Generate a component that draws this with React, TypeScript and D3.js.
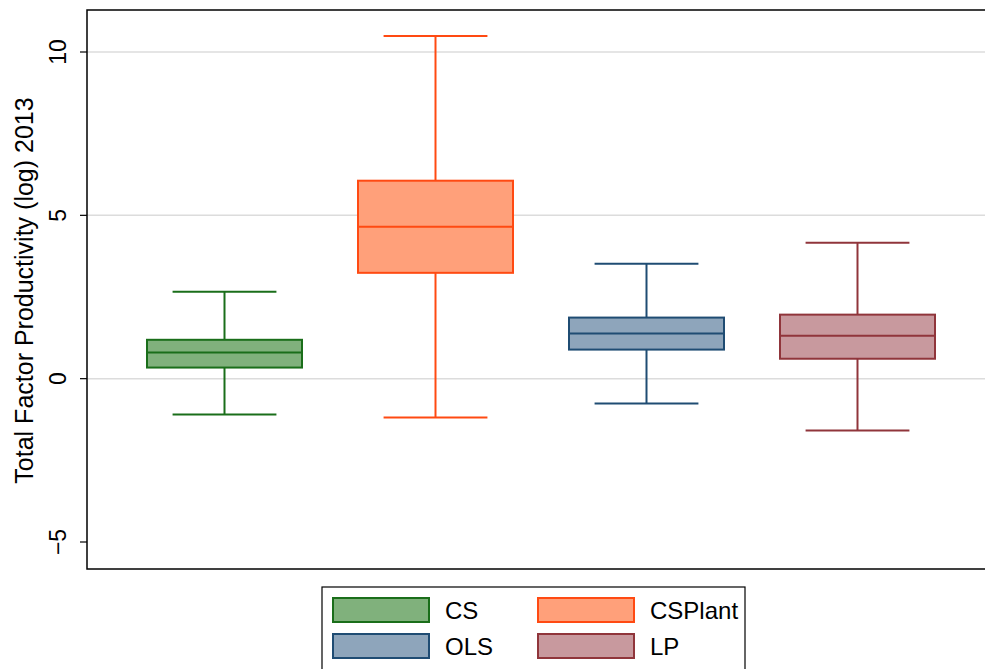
import * as d3 from "d3";

const groups = ["CS", "CSPlant", "OLS", "LP"];
const lowerWhisker = [-1.1, -1.19, -0.76, -1.59];
const q1 = [0.34, 3.24, 0.89, 0.61];
const median = [0.8, 4.65, 1.38, 1.31];
const q3 = [1.19, 6.06, 1.87, 1.96];
const upperWhisker = [2.66, 10.49, 3.52, 4.16];
const fills = ["#80b17c", "#ffa07a", "#8ea5bb", "#c8999e"];
const strokes = ["#1a6e1a", "#ff4a12", "#1f4c73", "#90353b"];
const yTicks = [-5, 0, 5, 10];

export default function App() {
  const W = 985, H = 669;
  const left = 87, right = 990, top = 10, bottom = 569;
  const y = d3.scaleLinear().domain([-5, 10]).range([542, 52]);
  const x = d3.scaleBand().domain(groups).range([147, 935]).paddingInner(56 / 211).paddingOuter(0);
  const bw = x.bandwidth();
  return (
    <svg width={W} height={H} style={{ position: "absolute", left: 0, top: 0, fontFamily: "Liberation Sans, Arial, sans-serif" }}>
      <rect width={W} height={H} fill="white" />
      {yTicks.map((t) => (
        <g key={t}>
          {t !== -5 && <line x1={left} x2={right} y1={y(t)} y2={y(t)} stroke="#dcdcdc" strokeWidth={1.5} />}
          <line x1={left - 7} x2={left} y1={y(t)} y2={y(t)} stroke="black" strokeWidth={1.2} />
          <text transform={`translate(${left - 21},${y(t)}) rotate(-90)`} textAnchor="middle" fontSize={23}>
            {t < 0 ? "\u22125" : t}
          </text>
        </g>
      ))}
      <rect x={left} y={top} width={right - left} height={bottom - top} fill="none" stroke="black" strokeWidth={1.5} />
      <text transform={`translate(33,${(top + bottom) / 2 + 1}) rotate(-90)`} textAnchor="middle" fontSize={25}>
        Total Factor Productivity (log) 2013
      </text>
      {groups.map((g, i) => {
        const x0 = x(g)!;
        const cx = x0 + bw / 2;
        const cap = bw * 0.67;
        const s = strokes[i];
        return (
          <g key={g} stroke={s} strokeWidth={2}>
            <line x1={cx} x2={cx} y1={y(upperWhisker[i])} y2={y(q3[i])} />
            <line x1={cx} x2={cx} y1={y(q1[i])} y2={y(lowerWhisker[i])} />
            <line x1={cx - cap / 2} x2={cx + cap / 2} y1={y(upperWhisker[i])} y2={y(upperWhisker[i])} />
            <line x1={cx - cap / 2} x2={cx + cap / 2} y1={y(lowerWhisker[i])} y2={y(lowerWhisker[i])} />
            <rect x={x0} width={bw} y={y(q3[i])} height={y(q1[i]) - y(q3[i])} fill={fills[i]} />
            <line x1={x0} x2={x0 + bw} y1={y(median[i])} y2={y(median[i])} />
          </g>
        );
      })}
      <rect x={322} y={587} width={423} height={100} fill="white" stroke="black" strokeWidth={1.2} />
      {groups.map((g, i) => {
        const col = i % 2, row = Math.floor(i / 2);
        const sx = col === 0 ? 333 : 538;
        const sy = row === 0 ? 598 : 634;
        return (
          <g key={g}>
            <rect x={sx} y={sy} width={96} height={24} fill={fills[i]} stroke={strokes[i]} strokeWidth={2} />
            <text x={sx + 112} y={sy + 21} fontSize={24}>{g}</text>
          </g>
        );
      })}
    </svg>
  );
}
